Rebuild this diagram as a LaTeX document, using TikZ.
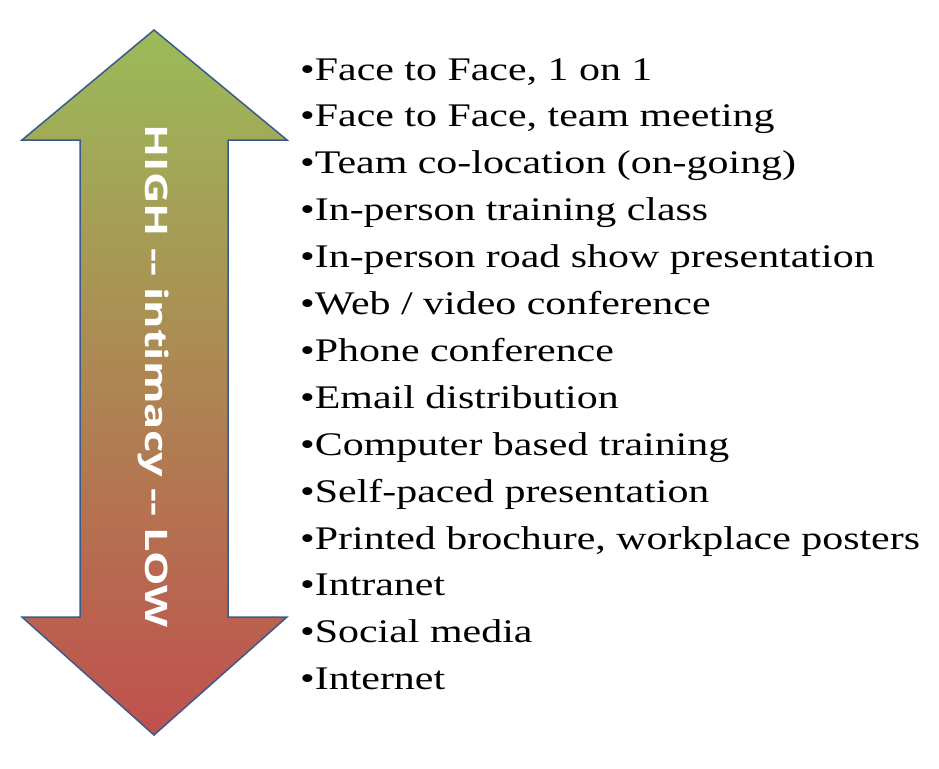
\documentclass[tikz,border=0pt]{standalone}
\usepackage{fontspec}
\setmainfont{Liberation Serif}
\newfontfamily\arrowfont{Open Sans}
\definecolor{topg}{HTML}{9BBB59}
\definecolor{botr}{HTML}{C0504D}
\definecolor{edge}{HTML}{3A5A8C}
\tikzset{item/.style={anchor=base west,font=\fontsize{33}{36}\selectfont,inner sep=0pt}}
\begin{document}
\begin{tikzpicture}[x=1pt,y=-1pt]
\useasboundingbox (0,0) rectangle (939,768);
\path[top color=topg,bottom color=botr,draw=edge,line width=1.5pt]
 (154,30) -- (287,140) -- (228,140) -- (228,617) -- (287,617) -- (154,735)
 -- (22,617) -- (80,617) -- (80,140) -- (22,140) -- cycle;
\node[rotate=-90,text=white,font=\arrowfont\fontsize{31}{34}\selectfont\bfseries,inner sep=0pt] (lab) at (154,376) {\scalebox{1.4}[1]{HIGH -- intimacy -- LOW}};
\foreach \t [count=\i from 0] in {Face to Face{,} 1 on 1,Face to Face{,} team meeting,Team co-location (on-going),In-person training class,In-person road show presentation,Web / video conference,Phone conference,Email distribution,Computer based training,Self-paced presentation,Printed brochure{,} workplace posters,Intranet,Social media,Internet}
 \node[item] (i\i) at (300,80+46.9*\i) {\scalebox{1.27}[1]{\textbullet\t}};
\end{tikzpicture}
\end{document}
